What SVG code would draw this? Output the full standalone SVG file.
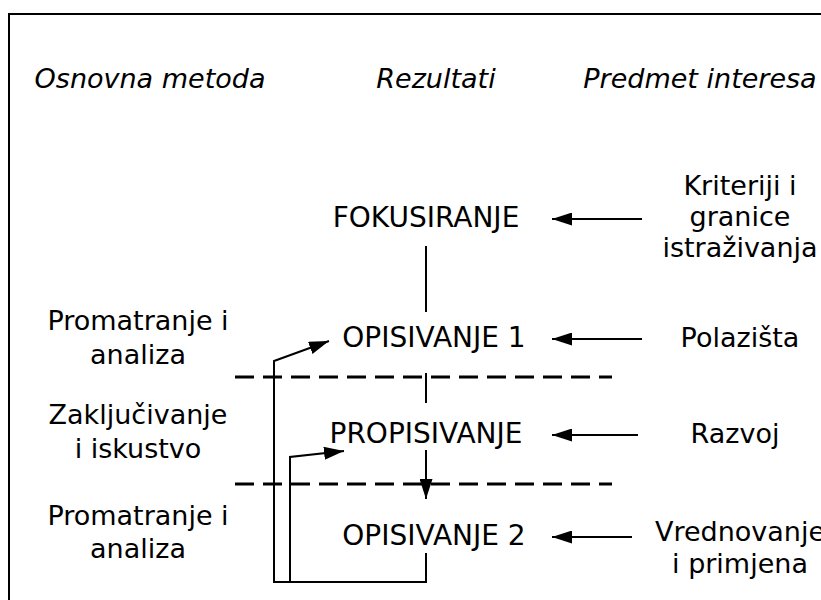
<svg xmlns="http://www.w3.org/2000/svg" width="821" height="600" viewBox="0 0 821 600">
<style>
text{font-family:"DejaVu Sans","Verdana",sans-serif;fill:#000;text-anchor:middle}
.h{font-size:27px;font-style:italic}
.r{font-size:28px}
.s{font-size:27px}
.ln{stroke:#000;stroke-width:2;fill:none}
.dash{stroke:#000;stroke-width:3;stroke-dasharray:19 9;fill:none}
</style>
<defs>
<marker id="ah" viewBox="0 0 20 13" refX="20" refY="6.5" markerWidth="20" markerHeight="13" markerUnits="userSpaceOnUse" orient="auto">
<path d="M0,0 L20,6.5 L0,13 z" fill="#000"/>
</marker>
</defs>
<rect x="9" y="14" width="900" height="700" fill="none" stroke="#000" stroke-width="2"/>
<g id="headers">
<text class="h" x="150" y="88">Osnovna metoda</text>
<text class="h" x="436" y="88">Rezultati</text>
<text class="h" x="700" y="88">Predmet interesa</text>
</g>
<g id="fokusiranje"><text class="r" x="426" y="227">FOKUSIRANJE</text></g>
<g id="opisivanje1"><text class="r" x="434" y="347">OPISIVANJE 1</text></g>
<g id="propisivanje"><text class="r" x="426" y="443">PROPISIVANJE</text></g>
<g id="opisivanje2"><text class="r" x="434" y="545">OPISIVANJE 2</text></g>
<g id="metoda1"><text class="s" x="138" y="330">Promatranje i</text><text class="s" x="138" y="364">analiza</text></g>
<g id="metoda2"><text class="s" x="138" y="424">Zaključivanje</text><text class="s" x="138" y="458">i iskustvo</text></g>
<g id="metoda3"><text class="s" x="138" y="525">Promatranje i</text><text class="s" x="138" y="558">analiza</text></g>
<g id="kriteriji"><text class="s" x="740" y="195">Kriteriji i</text><text class="s" x="740" y="226">granice</text><text class="s" x="740" y="257">istraživanja</text></g>
<g id="polazista"><text class="s" x="740" y="347">Polazišta</text></g>
<g id="razvoj"><text class="s" x="735" y="443">Razvoj</text></g>
<g id="vrednovanje"><text class="s" x="740" y="541">Vrednovanje</text><text class="s" x="740" y="573">i primjena</text></g>
<g id="connectors">
<line class="dash" x1="235" y1="377" x2="612" y2="377"/>
<line class="dash" x1="235" y1="484" x2="612" y2="484"/>
<line class="ln" x1="642" y1="219" x2="552" y2="219" marker-end="url(#ah)"/>
<line class="ln" x1="642" y1="339" x2="552" y2="339" marker-end="url(#ah)"/>
<line class="ln" x1="638" y1="435" x2="552" y2="435" marker-end="url(#ah)"/>
<line class="ln" x1="632" y1="537" x2="552" y2="537" marker-end="url(#ah)"/>
<line class="ln" x1="426" y1="246" x2="426" y2="312"/>
<line class="ln" x1="426" y1="373" x2="426" y2="403"/>
<line class="ln" x1="426" y1="450" x2="426" y2="499" marker-end="url(#ah)"/>
<polyline class="ln" points="426,553 426,582 274,582 274,361 329,341" marker-end="url(#ah)"/>
<polyline class="ln" points="290,582 290,457 344,451" marker-end="url(#ah)"/>
</g>
</svg>
